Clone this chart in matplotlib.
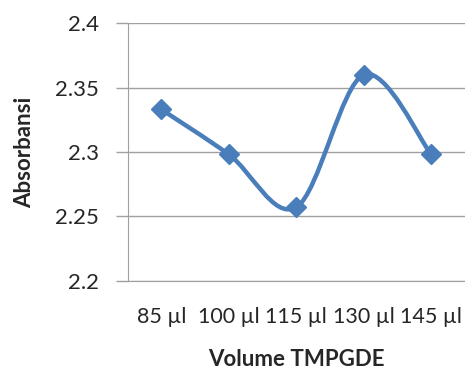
import numpy as np
import matplotlib
matplotlib.use("Agg")
import matplotlib.pyplot as plt
from matplotlib.path import Path
from matplotlib.patches import PathPatch

# data
categories = ["85 µl", "100 µl", "115 µl", "130 µl", "145 µl"]
absorbansi = [2.333, 2.298, 2.257, 2.360, 2.298]
y_ticks = [2.2, 2.25, 2.3, 2.35, 2.4]
y_tick_labels = ["2.2", "2.25", "2.3", "2.35", "2.4"]

blue = "#4A7EBB"
grid_gray = "#A0A0A0"
text_col = "#262626"

plt.rcParams["font.family"] = ["Lato", "DejaVu Sans"]

fig = plt.figure(figsize=(4.65, 3.85), dpi=100)
ax = fig.add_axes([0.2746, 0.2714, 0.7254, 0.668])

x = np.arange(len(categories))
y = np.array(absorbansi)

# Excel-like smoothed line (cardinal spline as cubic Bezier segments)
px = np.concatenate([[x[0]], x, [x[-1]]])
py = np.concatenate([[y[0]], y, [y[-1]]])
verts = [(x[0], y[0])]
codes = [Path.MOVETO]
for i in range(1, len(px) - 2):
    c1 = (px[i] + (px[i + 1] - px[i - 1]) / 6, py[i] + (py[i + 1] - py[i - 1]) / 6)
    c2 = (px[i + 1] - (px[i + 2] - px[i]) / 6, py[i + 1] - (py[i + 2] - py[i]) / 6)
    verts += [c1, c2, (px[i + 1], py[i + 1])]
    codes += [Path.CURVE4] * 3
ax.add_patch(PathPatch(Path(verts, codes), facecolor="none", edgecolor=blue,
                       lw=3.2, capstyle="round", joinstyle="round", zorder=3))
ax.plot(x, y, linestyle="none", marker="D", markersize=10, color=blue, zorder=4)

ax.set_xlim(-0.5, len(categories) - 0.5)
ax.set_ylim(2.2, 2.4)
ax.set_yticks(y_ticks)
ax.set_yticklabels(y_tick_labels)
ax.set_xticks(x)
ax.set_xticklabels(categories)

ax.grid(axis="y", color=grid_gray, lw=1.0)
ax.set_axisbelow(True)
for side in ["top", "right"]:
    ax.spines[side].set_visible(False)
ax.spines["left"].set_color(grid_gray)
ax.spines["bottom"].set_color(grid_gray)
ax.tick_params(axis="y", length=9, color=grid_gray, width=1.0, labelsize=16,
               labelcolor=text_col, pad=12)
ax.tick_params(axis="x", length=0, labelsize=15.5, labelcolor=text_col, pad=19)

ax.set_ylabel("Absorbansi", fontsize=16, fontweight="bold", color=text_col, labelpad=14)
ax.set_xlabel("Volume TMPGDE", fontsize=16, fontweight="bold", color=text_col, labelpad=16)

fig.savefig("out.png", dpi=100)
